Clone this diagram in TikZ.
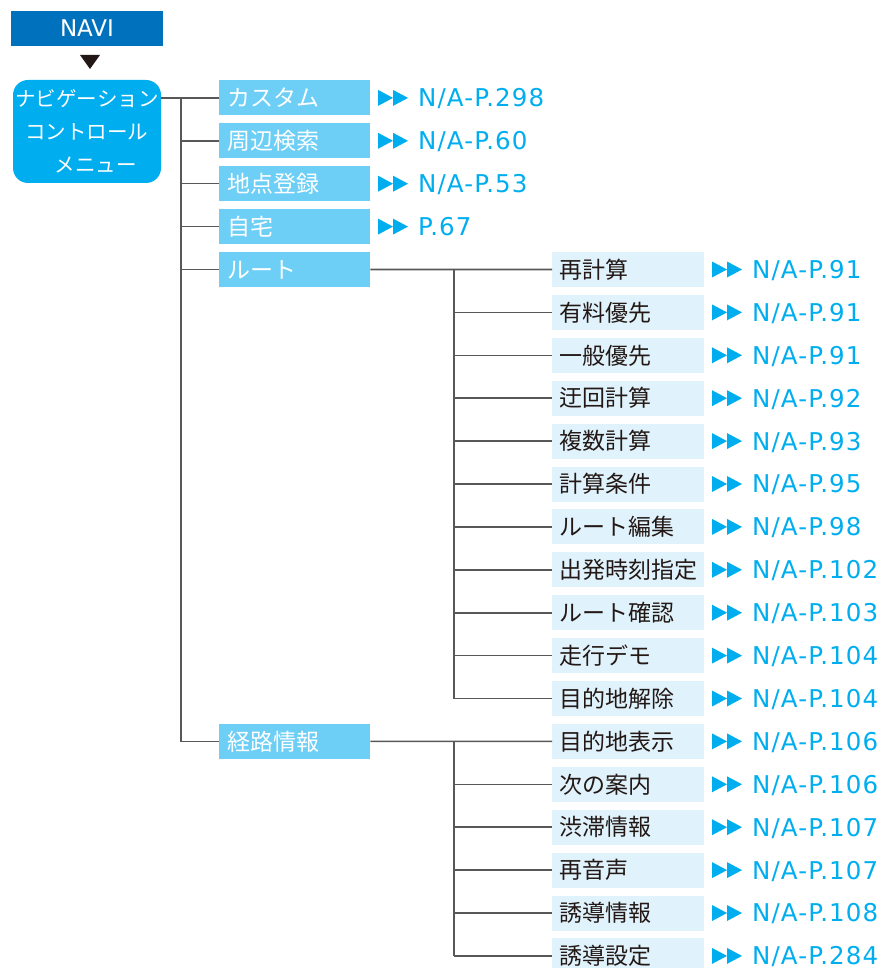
\documentclass[tikz,border=0pt]{standalone}
\usepackage{fontspec}
\setmainfont{Noto Sans CJK JP}
\newfontfamily\dejavu{DejaVu Sans}
\newfontfamily\reffont[LetterSpace=4.5]{DejaVu Sans}
\definecolor{navic}{HTML}{0071BC}
\definecolor{menuc}{HTML}{00AEEF}
\definecolor{lonec}{HTML}{6DCFF6}
\definecolor{ltwoc}{HTML}{E0F3FC}
\definecolor{refc}{HTML}{00AEEF}
\definecolor{linec}{HTML}{595757}
\definecolor{txtc}{HTML}{231815}
\newcommand\nap{N/A-P.}
\newcommand\dblarr[2]{%
  \fill[refc] ({#1},{#2-8}) -- ({#1+15},{#2}) -- ({#1},{#2+8}) -- cycle;
  \fill[refc] ({#1+15},{#2-8}) -- ({#1+30},{#2}) -- ({#1+15},{#2+8}) -- cycle;}
\tikzset{
  navibox/.style={fill=navic, text=white, minimum width=152pt, minimum height=35pt, inner sep=0pt,
     font=\dejavu\fontsize{23}{23}\selectfont, text height=16.8pt, text depth=0pt},
  menubox/.style={fill=menuc, text=white, rounded corners=15pt, minimum width=148pt, minimum height=103pt,
     inner sep=0pt, align=center, font=\fontsize{20.5}{33}\selectfont},
  lonebox/.style={fill=lonec, text=white, minimum height=35pt, inner xsep=8pt, inner ysep=0pt,
     text width=135pt, align=left, font=\fontsize{23}{23}\selectfont, text height=20.2pt, text depth=2.8pt},
  ltwobox/.style={fill=ltwoc, text=txtc, minimum height=35pt, inner xsep=7pt, inner ysep=0pt,
     text width=138pt, align=left, font=\fontsize{23}{23}\selectfont, text height=20.2pt, text depth=2.8pt},
  reftext/.style={text=refc, inner sep=0pt, font=\reffont\fontsize{24.5}{24.5}\selectfont},
  conn/.style={draw=linec, line width=1.6pt}
}
\begin{document}
\begin{tikzpicture}[x=1pt,y=-1pt]
\useasboundingbox (0,0) rectangle (883,968);
% header
\node[navibox] (navi) at (87,28.5) {NAVI};
\fill[txtc] (80,55) -- (100,55) -- (90,69) -- cycle;
\node[menubox] (menu) at (87,131.5) {ナビゲーション\\コントロール\\\hspace*{18pt}メニュー};
% level 1
\foreach \k/\t in {0/カスタム,1/周辺検索,2/地点登録,3/自宅,4/ルート,15/経路情報}{
  \pgfmathsetmacro\yy{97.9+42.9*\k}
  \node[lonebox, anchor=west] (l1-\k) at (219,\yy) {\t};
}
\foreach \k/\r in {0/\nap298,1/\nap60,2/\nap53,3/P.67}{
  \pgfmathsetmacro\yy{97.9+42.9*\k}
  \dblarr{378}{\yy}
  \node[reftext, anchor=base west] (r1-\k) at (418,\yy+8.9) {\r};
}
% level 2
\foreach \k/\t/\r in {0/再計算/91,1/有料優先/91,2/一般優先/91,3/迂回計算/92,
  4/複数計算/93,5/計算条件/95,6/ルート編集/98,7/出発時刻指定/102,
  8/ルート確認/103,9/走行デモ/104,10/目的地解除/104,11/目的地表示/106,
  12/次の案内/106,13/渋滞情報/107,14/再音声/107,15/誘導情報/108,
  16/誘導設定/284}{
  \pgfmathsetmacro\yy{269.5+42.9*\k}
  \node[ltwobox, anchor=west] (l2-\k) at (552,\yy) {\t};
  \dblarr{712}{\yy}
  \node[reftext, anchor=base west] (r2-\k) at (752,\yy+8.9) {\nap\r};
}
% connectors
\coordinate (ta) at (181,0);
\coordinate (tb) at (454,0);
\draw[conn] (menu.east |- l1-0.west) -- (l1-0.west);
\draw[conn] (ta |- l1-0.west) -- (ta |- l1-15.west) -- (l1-15.west);
\foreach \k in {1,2,3,4}{ \draw[conn] (ta |- l1-\k.west) -- (l1-\k.west); }
\draw[conn] (l1-4.east) -- (l2-0.west);
\draw[conn] (tb |- l2-0.west) -- (tb |- l2-10.west);
\foreach \k in {1,...,10}{ \draw[conn] (tb |- l2-\k.west) -- (l2-\k.west); }
\draw[conn] (l1-15.east) -- (l2-11.west);
\draw[conn] (tb |- l2-11.west) -- (tb |- l2-16.west);
\foreach \k in {12,...,16}{ \draw[conn] (tb |- l2-\k.west) -- (l2-\k.west); }
\end{tikzpicture}
\end{document}
